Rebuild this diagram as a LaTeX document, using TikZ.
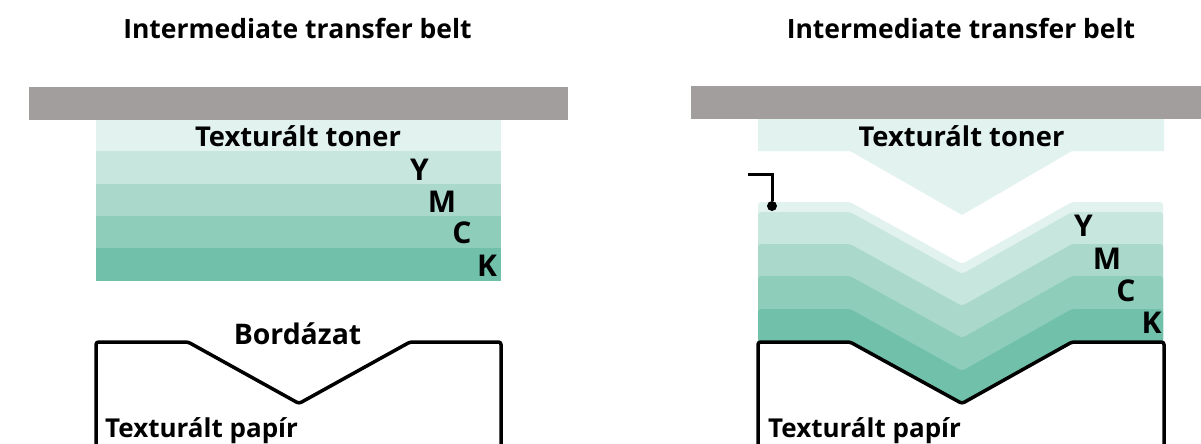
\documentclass[tikz,border=0pt]{standalone}
\usepackage{fontspec}
\setmainfont{Open Sans}[BoldFont={Open Sans Bold}]
\definecolor{belt}{HTML}{A29E9D}
\definecolor{tA}{HTML}{E2F2EE}
\definecolor{tB}{HTML}{C7E6DD}
\definecolor{tC}{HTML}{AAD9CB}
\definecolor{tD}{HTML}{8DCDBA}
\definecolor{tE}{HTML}{70C0AA}
\tikzset{
 lbl/.style={font=\fontsize{26}{30}\bfseries\selectfont,text=black,inner sep=0pt,anchor=base},
 tonerlbl/.style={font=\fontsize{27.3}{30}\bfseries\selectfont,text=black,inner sep=0pt,anchor=base},
 ribs/.style={font=\fontsize{28.4}{30}\bfseries\selectfont,text=black,inner sep=0pt,anchor=base},
 ltr/.style={font=\fontsize{30}{30}\bfseries\selectfont,text=black,inner sep=0pt,anchor=base},
 ttl/.style={font=\fontsize{26.5}{30}\bfseries\selectfont,text=black,inner sep=0pt,anchor=base},
 paper/.style={draw=black,line width=3.5pt,line join=round,rounded corners=2.5pt},
 layer/.style={rounded corners=3pt}
}
\newcommand{\chev}[2]{(758,#1) -- (850,#1) -- (962,#2) -- (1072,#1) -- (1163,#1) -- (1163,342) -- (1072,342) -- (962,403) -- (850,342) -- (758,342) -- cycle}
\begin{document}
\begin{tikzpicture}[x=1pt,y=-1pt]
\useasboundingbox (0,0) rectangle (1201,444);
% left
\fill[belt] (28.5,87) rectangle (568,120);
\fill[tA] (95.5,120) rectangle (501,151);
\fill[tB] (95.5,151) rectangle (501,184);
\fill[tC] (95.5,184) rectangle (501,216);
\fill[tD] (95.5,216) rectangle (501,248);
\fill[tE] (95.5,248) rectangle (501,281);
\draw[paper] (96,444) -- (96,342) -- (188,342) -- (299,403.5) -- (410,342) -- (501,342) -- (501,444);
% right
\fill[belt] (691,86) rectangle (1201,119);
\fill[tA] (758,119) -- (1164,119) -- (1164,151) -- (1072,151) -- (962,215) -- (850,151) -- (758,151) -- cycle;
\fill[tA,layer] \chev{202}{264};
\fill[tB,layer] \chev{212}{274};
\fill[tC,layer] \chev{244}{306};
\fill[tD,layer] \chev{276}{338};
\fill[tE,layer] \chev{309}{371};
\draw[paper] (758,444) -- (758,342) -- (850,342) -- (962,403.5) -- (1072,342) -- (1164,342) -- (1164,444);
\coordinate (legA) at (748,174);
\coordinate (legB) at (772,174);
\node[circle,fill=black,inner sep=0pt,minimum size=10pt] (dot) at (772,206) {};
\draw[line width=3pt] (legA) -- (legB) -- (dot);
% labels
\node[ttl] (t1) at (297.5,38) {Intermediate transfer belt};
\node[ttl] (t2) at (961,38) {Intermediate transfer belt};
\node[tonerlbl] (a1) at (298,146) {Texturált toner};
\node[tonerlbl] (a2) at (961.5,146) {Texturált toner};
\node[ltr] (y1) at (419.5,180) {Y};
\node[ltr] (m1) at (442,212) {M};
\node[ltr] (c1) at (462,243.5) {C};
\node[ltr] (k1) at (487,276) {K};
\node[ltr] (y2) at (1083.5,236) {Y};
\node[ltr] (m2) at (1107,269) {M};
\node[ltr] (c2) at (1126,301) {C};
\node[ltr] (k2) at (1151.5,333) {K};
\node[ribs] (b) at (297.5,344) {Bordázat};
\node[lbl,anchor=base west] (p1) at (105,437) {Texturált papír};
\node[lbl,anchor=base west] (p2) at (768,437) {Texturált papír};
\end{tikzpicture}
\end{document}
